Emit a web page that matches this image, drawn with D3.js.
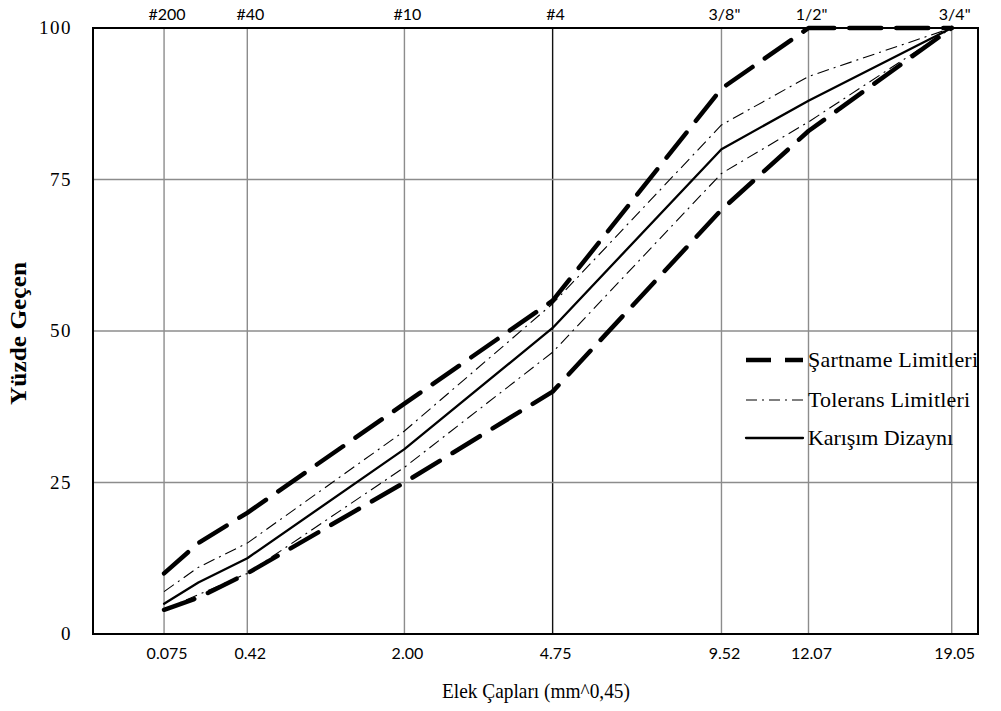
<!DOCTYPE html>
<html>
<head>
<meta charset="utf-8">
<script src="https://cdn.jsdelivr.net/npm/d3@7"></script>
<style>
  html, body { margin: 0; padding: 0; background: #fff; }
  svg { display: block; }
</style>
</head>
<body>
<svg id="chart" width="1001" height="711"></svg>
<script>
// Sieve sizes (mm) for each data point (#200, #80, #40, #10, #4, 3/8", 1/2", 3/4")
const sieveSizes = [0.075, 0.18, 0.42, 2.00, 4.75, 9.52, 12.7, 19.05];
// Series values (% passing)
const specUpper = [10, 15, 20, 38, 55, 90, 100, 100];
const specLower = [4, 6, 10, 25, 40, 70, 83, 100];
const tolUpper  = [7, 11, 15, 33.5, 54.5, 84, 92, 100];
const tolLower  = [4, 6.5, 10, 27.5, 46.5, 76, 84.5, 100];
const design    = [5, 8.5, 12.5, 30.5, 50.5, 80, 88, 100];

// Axis tick positions and labels
const tickSizes   = [0.075, 0.42, 2.00, 4.75, 9.52, 12.7, 19.05];
const bottomLabels = ["0.075", "0.42", "2.00", "4.75", "9.52", "12.07", "19.05"];
const topLabels    = ["#200", "#40", "#10", "#4", "3/8\"", "1/2\"", "3/4\""];
const yTicks = [0, 25, 50, 75, 100];

const legendNames = ["Şartname Limitleri", "Tolerans Limitleri", "Karışım Dizaynı"];

(function () {
const svg = d3.select("#chart");
const pL = 93, pR = 978, pT = 28, pB = 634;
const serif = "'Liberation Serif', 'Times New Roman', serif";
const sans = "Lato, 'Open Sans', sans-serif";

const x = d3.scalePow().exponent(0.45).domain([0, 20.37]).range([pL, pR]);
const y = d3.scaleLinear().domain([0, 100]).range([pB, pT]);

// Gridlines
const grid = svg.append("g");
grid.selectAll("line.v").data(tickSizes).enter().append("line")
  .attr("x1", d => x(d)).attr("x2", d => x(d))
  .attr("y1", pT).attr("y2", pB)
  .attr("stroke", d => d === 4.75 ? "#111" : "#8c8c8c")
  .attr("stroke-width", 1.4);
grid.selectAll("line.h").data([25, 50, 75]).enter().append("line")
  .attr("x1", pL).attr("x2", pR)
  .attr("y1", d => y(d)).attr("y2", d => y(d))
  .attr("stroke", "#8c8c8c").attr("stroke-width", 1.4);

// Lines
const line = d3.line().x((d, i) => x(sieveSizes[i])).y(d => y(d));
const plot = svg.append("g");

const styles = {
  spec: { w: 4.5, dash: "32 15", cap: "round" },
  tol:  { w: 1.1, dash: "12 5 2 5", cap: "butt" },
  des:  { w: 2.3, dash: null, cap: "round" }
};

function drawSeries(vals, st) {
  plot.append("path").datum(vals)
    .attr("d", line)
    .attr("fill", "none")
    .attr("stroke", "#000")
    .attr("stroke-width", st.w)
    .attr("stroke-linecap", st.cap)
    .attr("stroke-linejoin", "round")
    .attr("stroke-dasharray", st.dash);
}
drawSeries(tolUpper, styles.tol);
drawSeries(tolLower, styles.tol);
drawSeries(design, styles.des);
drawSeries(specUpper, styles.spec);
drawSeries(specLower, styles.spec);

// Frame
svg.append("rect").attr("x", pL).attr("y", pT)
  .attr("width", pR - pL).attr("height", pB - pT)
  .attr("fill", "none").attr("stroke", "#000").attr("stroke-width", 2);

// Bottom labels
svg.append("g").selectAll("text").data(tickSizes).enter().append("text")
  .attr("x", d => x(d) + 3).attr("y", 659)
  .attr("text-anchor", "middle")
  .attr("font-family", sans)
  .attr("font-size", 16)
  .text((d, i) => bottomLabels[i]);

// Top labels
svg.append("g").selectAll("text").data(tickSizes).enter().append("text")
  .attr("x", d => x(d) + 3).attr("y", 20)
  .attr("text-anchor", "middle")
  .attr("font-family", sans)
  .attr("font-size", 16)
  .text((d, i) => topLabels[i]);

// Y tick labels
svg.append("g").selectAll("text").data(yTicks).enter().append("text")
  .attr("x", 72).attr("y", d => y(d) + 6)
  .attr("text-anchor", "end")
  .attr("font-family", serif)
  .attr("font-size", 19)
  .attr("letter-spacing", 1.5)
  .text(d => d);

// Axis titles
svg.append("text")
  .attr("x", 442).attr("y", 698)
  .attr("font-family", serif)
  .attr("font-size", 21)
  .attr("textLength", 188)
  .attr("lengthAdjust", "spacingAndGlyphs")
  .text("Elek Çapları (mm^0,45)");

svg.append("text")
  .attr("transform", "translate(26,405) rotate(-90)")
  .attr("font-family", serif)
  .attr("font-weight", "bold")
  .attr("font-size", 23)
  .attr("textLength", 143)
  .attr("lengthAdjust", "spacingAndGlyphs")
  .text("Yüzde Geçen");

// Legend
const legendStyles = [styles.spec, styles.tol, styles.des];
const legendY = [360, 400, 438];
const legendLen = [170, 162, 145];
const lg = svg.append("g");
legendNames.forEach((name, i) => {
  lg.append("line")
    .attr("x1", 746).attr("x2", 803)
    .attr("y1", legendY[i]).attr("y2", legendY[i])
    .attr("stroke", "#000")
    .attr("stroke-width", legendStyles[i].w)
    .attr("stroke-linecap", i === 0 ? "butt" : legendStyles[i].cap)
    .attr("stroke-dasharray", i === 0 ? "25 14" : (i === 1 ? "11 5 2 5" : null));
  lg.append("text")
    .attr("x", 808).attr("y", legendY[i] + 7)
    .attr("font-family", serif)
    .attr("font-size", 22)
    .attr("textLength", legendLen[i])
    .attr("lengthAdjust", "spacing")
    .text(name);
});
})();
</script>
</body>
</html>
